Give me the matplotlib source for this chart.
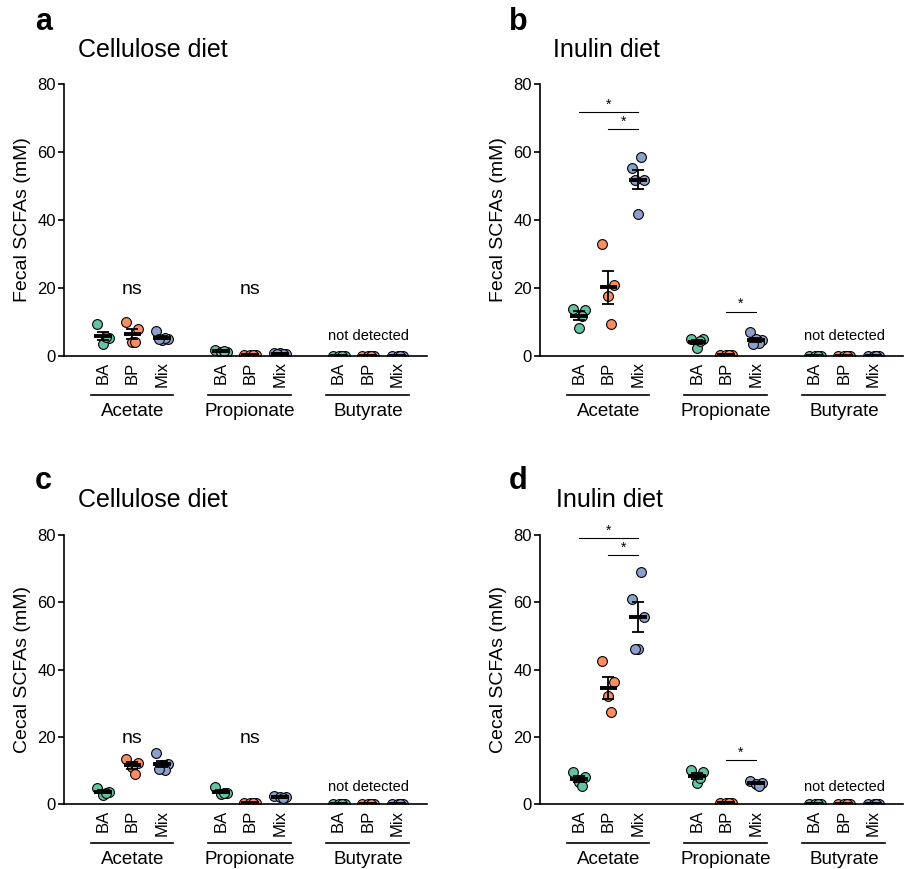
import numpy as np
import matplotlib
matplotlib.use("Agg")
import matplotlib.pyplot as plt
from matplotlib.transforms import blended_transform_factory

plt.rcParams["font.family"] = ["Liberation Sans", "DejaVu Sans"]

strains = ["BA", "BP", "Mix"]
acids = ["Acetate", "Propionate", "Butyrate"]
colors = {"BA": "#66c2a5", "BP": "#fc8d62", "Mix": "#8da0cb"}

# values in mM, one list per strain and acid
fecal_cellulose = {
    "Acetate": {"BA": [9.2, 5.2, 3.5, 5.5], "BP": [10.0, 8.0, 4.0, 4.0],
                "Mix": [7.2, 5.0, 4.5, 5.2, 4.8]},
    "Propionate": {"BA": [1.8, 1.2, 1.0, 1.4], "BP": [0.3, 0.3, 0.3, 0.3],
                   "Mix": [0.8, 0.5, 0.7, 0.6, 0.5]},
    "Butyrate": {"BA": [0, 0, 0, 0], "BP": [0, 0, 0, 0], "Mix": [0, 0, 0, 0]},
}
fecal_inulin = {
    "Acetate": {"BA": [13.8, 13.5, 8.1, 11.6], "BP": [32.9, 20.8, 17.7, 9.3],
                "Mix": [55.3, 51.8, 41.8, 58.5, 51.8]},
    "Propionate": {"BA": [5.0, 4.9, 2.4, 4.2], "BP": [0.3, 0.3, 0.3, 0.3],
                   "Mix": [7.0, 4.7, 4.8, 3.6, 3.5]},
    "Butyrate": {"BA": [0, 0, 0, 0], "BP": [0, 0, 0, 0], "Mix": [0, 0, 0, 0]},
}
cecal_cellulose = {
    "Acetate": {"BA": [4.9, 3.6, 2.8, 3.3], "BP": [13.5, 12.3, 11.0, 9.0],
                "Mix": [15.2, 12.0, 11.5, 10.0, 10.5]},
    "Propionate": {"BA": [5.0, 3.2, 3.0, 3.4], "BP": [0.2, 0.2, 0.2, 0.2],
                   "Mix": [2.5, 2.0, 2.2, 1.8]},
    "Butyrate": {"BA": [0, 0, 0, 0], "BP": [0, 0, 0, 0], "Mix": [0, 0, 0, 0]},
}
cecal_inulin = {
    "Acetate": {"BA": [9.6, 8.1, 6.6, 5.4], "BP": [42.4, 36.2, 32.1, 27.3],
                "Mix": [60.9, 55.6, 46.0, 69.1, 46.0]},
    "Propionate": {"BA": [10.0, 9.4, 6.2, 7.8], "BP": [0.3, 0.3, 0.3, 0.3],
                   "Mix": [6.8, 6.3, 5.8, 5.5]},
    "Butyrate": {"BA": [0, 0, 0, 0], "BP": [0, 0, 0, 0], "Mix": [0, 0, 0, 0]},
}

# significance bars: (from slot, to slot, height)
sig_fecal_inulin = [(0, 2, 71.7), (1, 2, 66.7), (5, 6, 13.0)]
sig_cecal_inulin = [(0, 2, 79.0), (1, 2, 74.0), (5, 6, 13.0)]
ns_fecal = 19.5
ns_cecal = 19.6

JITTER = [-0.2, 0.2, 0.0, 0.1, -0.1]
W, H = 910, 869


def fx(px):
    return px / W


def fy(py):
    return 1 - py / H


def draw_panel(ax, data, ylabel, sigs=None, ns_y=None, nd_y=5.5):
    ticks, labels = [], []
    for gi, acid in enumerate(acids):
        for si, strain in enumerate(strains):
            x = gi * 4 + si
            vals = np.array(data[acid][strain], dtype=float)
            xs = x + np.array(JITTER[:len(vals)])
            ax.scatter(xs, vals, s=50, color=colors[strain], edgecolor="black",
                       linewidth=0.8, zorder=2, clip_on=True)
            m = vals.mean()
            sem = vals.std(ddof=1) / np.sqrt(len(vals))
            if sem > 0:
                ax.errorbar(x, m, yerr=sem, color="black", capsize=4.5,
                            elinewidth=1.3, capthick=1.3, zorder=3, fmt="none")
            ax.plot([x - 0.3, x + 0.3], [m, m], color="black", lw=2.8,
                    solid_capstyle="butt", zorder=4)
            ticks.append(x)
            labels.append(strain)
        # group underline and name
        trans = blended_transform_factory(ax.transData, ax.transAxes)
        ax.plot([gi * 4 - 0.42, gi * 4 + 2.38], [-0.145, -0.145], color="black",
                lw=1.2, transform=trans, clip_on=False)
        ax.text(gi * 4 + 1, -0.205, acid, transform=trans, ha="center",
                va="center", fontsize=13.5)

    ax.set_xticks(ticks)
    ax.set_xticklabels(labels, rotation=90, fontsize=12)
    ax.tick_params(axis="x", length=0, pad=4)
    ax.tick_params(axis="y", length=4, width=1.2, labelsize=12, pad=2)
    ax.set_xlim(-1.32, 11.0)
    ax.set_ylim(0, 80)
    ax.set_yticks([0, 20, 40, 60, 80])
    for side in ["top", "right"]:
        ax.spines[side].set_visible(False)
    ax.spines["left"].set_linewidth(1.2)
    ax.spines["bottom"].set_linewidth(1.2)
    ax.set_ylabel(ylabel, fontsize=14, labelpad=4)

    if sigs:
        for x0, x1, yv in sigs:
            ax.plot([x0, x1], [yv, yv], color="black", lw=0.8, clip_on=False)
            ax.text((x0 + x1) / 2, yv + 0.2, "*", ha="center", va="bottom",
                    fontsize=10)
    if ns_y is not None:
        for x in [1, 5]:
            ax.text(x, ns_y, "ns", ha="center", va="center", fontsize=14)
    ax.text(9, nd_y, "not detected", ha="center", va="center", fontsize=10.5)


fig = plt.figure(figsize=(W / 100, H / 100), dpi=100)

ax_w = (427 - 64) / W
ax_a = fig.add_axes([fx(64), fy(355.7), ax_w, (355.7 - 84.3) / H])
ax_b = fig.add_axes([fx(540), fy(355.7), ax_w, (355.7 - 84.3) / H])
ax_c = fig.add_axes([fx(64), fy(804), ax_w, (804 - 535) / H])
ax_d = fig.add_axes([fx(540), fy(804), ax_w, (804 - 535) / H])

draw_panel(ax_a, fecal_cellulose, "Fecal SCFAs (mM)", ns_y=ns_fecal, nd_y=5.8)
draw_panel(ax_b, fecal_inulin, "Fecal SCFAs (mM)", sigs=sig_fecal_inulin, nd_y=5.8)
draw_panel(ax_c, cecal_cellulose, "Cecal SCFAs (mM)", ns_y=ns_cecal, nd_y=5.0)
draw_panel(ax_d, cecal_inulin, "Cecal SCFAs (mM)", sigs=sig_cecal_inulin, nd_y=5.0)

for letter, lx, ly, title, tx, ty in [
    ("a", 35, 22, "Cellulose diet", 78, 50),
    ("b", 509, 22, "Inulin diet", 553, 50),
    ("c", 35, 481, "Cellulose diet", 78, 500),
    ("d", 509, 481, "Inulin diet", 556, 500),
]:
    fig.text(fx(lx), fy(ly), letter, fontsize=22, fontweight="bold",
             ha="left", va="center")
    fig.text(fx(tx), fy(ty), title, fontsize=18, ha="left", va="center")

fig.savefig("out.png", dpi=100)
